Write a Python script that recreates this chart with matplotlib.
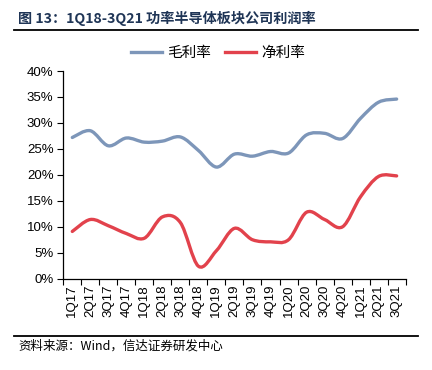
import matplotlib.pyplot as plt
import numpy as np
from matplotlib.path import Path
from matplotlib.patches import PathPatch
from matplotlib.lines import Line2D

plt.rcParams['font.family'] = ['Liberation Sans', 'Noto Sans CJK SC', 'DejaVu Sans']

# data
kvartaly = ["1Q17", "2Q17", "3Q17", "4Q17", "1Q18", "2Q18", "3Q18", "4Q18",
            "1Q19", "2Q19", "3Q19", "4Q19", "1Q20", "2Q20", "3Q20", "4Q20",
            "1Q21", "2Q21", "3Q21"]
hruba_marza = [27.2, 28.5, 25.6, 27.1, 26.3, 26.5, 27.3, 24.7, 21.5, 24.0,
               23.6, 24.5, 24.2, 27.7, 28.0, 27.0, 30.9, 34.0, 34.6]
cista_marza = [9.1, 11.4, 10.2, 8.7, 7.8, 11.9, 10.8, 2.4, 5.4, 9.7,
               7.5, 7.1, 7.5, 12.8, 11.4, 10.0, 15.8, 19.7, 19.8]

BLUE = "#7D96B9"
RED = "#E2424C"


# hladka ciara ako v exceli (bezier cez catmull-rom kontrolne body)
def smooth_path(x, y):
    x = np.asarray(x, float)
    y = np.asarray(y, float)
    verts = [(x[0], y[0])]
    codes = [Path.MOVETO]
    n = len(x)
    for i in range(n - 1):
        i0 = max(i - 1, 0)
        i3 = min(i + 2, n - 1)
        c1 = (x[i] + (x[i + 1] - x[i0]) / 6, y[i] + (y[i + 1] - y[i0]) / 6)
        c2 = (x[i + 1] - (x[i3] - x[i]) / 6, y[i + 1] - (y[i3] - y[i]) / 6)
        verts += [c1, c2, (x[i + 1], y[i + 1])]
        codes += [Path.CURVE4] * 3
    return Path(verts, codes)


fig = plt.figure(figsize=(4.32, 3.70), dpi=100)
ax = fig.add_axes([0.1465, 0.2468, 0.7925, 0.5612])

xs = np.arange(len(kvartaly))
for vals, col in [(hruba_marza, BLUE), (cista_marza, RED)]:
    ax.add_patch(PathPatch(smooth_path(xs, vals), fill=False, edgecolor=col,
                           linewidth=2.4, capstyle="round", joinstyle="round"))

ax.set_xlim(-0.5, len(kvartaly) - 0.5)
ax.set_ylim(0, 40)
ax.set_yticks(np.arange(0, 41, 5))
ax.set_yticklabels([f"{v}%" for v in range(0, 41, 5)], fontsize=9.5)
ax.set_xticks(np.arange(-0.5, len(kvartaly), 1))
ax.set_xticklabels([])
ax.set_xticks(xs, minor=True)
ax.set_xticklabels(kvartaly, minor=True, rotation=90, fontsize=9.5)
ax.tick_params(axis="x", which="major", length=4, width=0.8, direction="out")
ax.tick_params(axis="x", which="minor", length=0, pad=4)
ax.tick_params(axis="y", length=4, width=0.8, pad=3)
for s in ["top", "right"]:
    ax.spines[s].set_visible(False)
for s in ["left", "bottom"]:
    ax.spines[s].set_linewidth(0.9)

handles = [Line2D([], [], color=BLUE, lw=2.4), Line2D([], [], color=RED, lw=2.4)]
fig.legend(handles, ["毛利率", "净利率"], loc="center", bbox_to_anchor=(0.505, 1 - 53 / 370),
           ncol=2, frameon=False, handlelength=2.1, handletextpad=0.35,
           columnspacing=1.0, prop={"family": ["Noto Sans CJK SC"], "size": 10.5})

fig.text(18 / 432, 1 - 18 / 370, "图 13：1Q18-3Q21 功率半导体板块公司利润率", fontsize=10.2,
         fontweight="bold", color="#1F3556", va="center", ha="left",
         family=["Noto Sans CJK SC", "DejaVu Sans"])
fig.add_artist(Line2D([14 / 432, 418 / 432], [1 - 29.5 / 370] * 2, color="black", lw=1.3))
fig.add_artist(Line2D([14 / 432, 418 / 432], [1 - 335.5 / 370] * 2, color="black", lw=1.3))
fig.text(18 / 432, 1 - 346 / 370, "资料来源：Wind，信达证券研发中心", fontsize=9,
         style="italic", va="center", ha="left", family=["Noto Sans CJK SC", "DejaVu Sans"])

plt.savefig("out.png", dpi=100)
